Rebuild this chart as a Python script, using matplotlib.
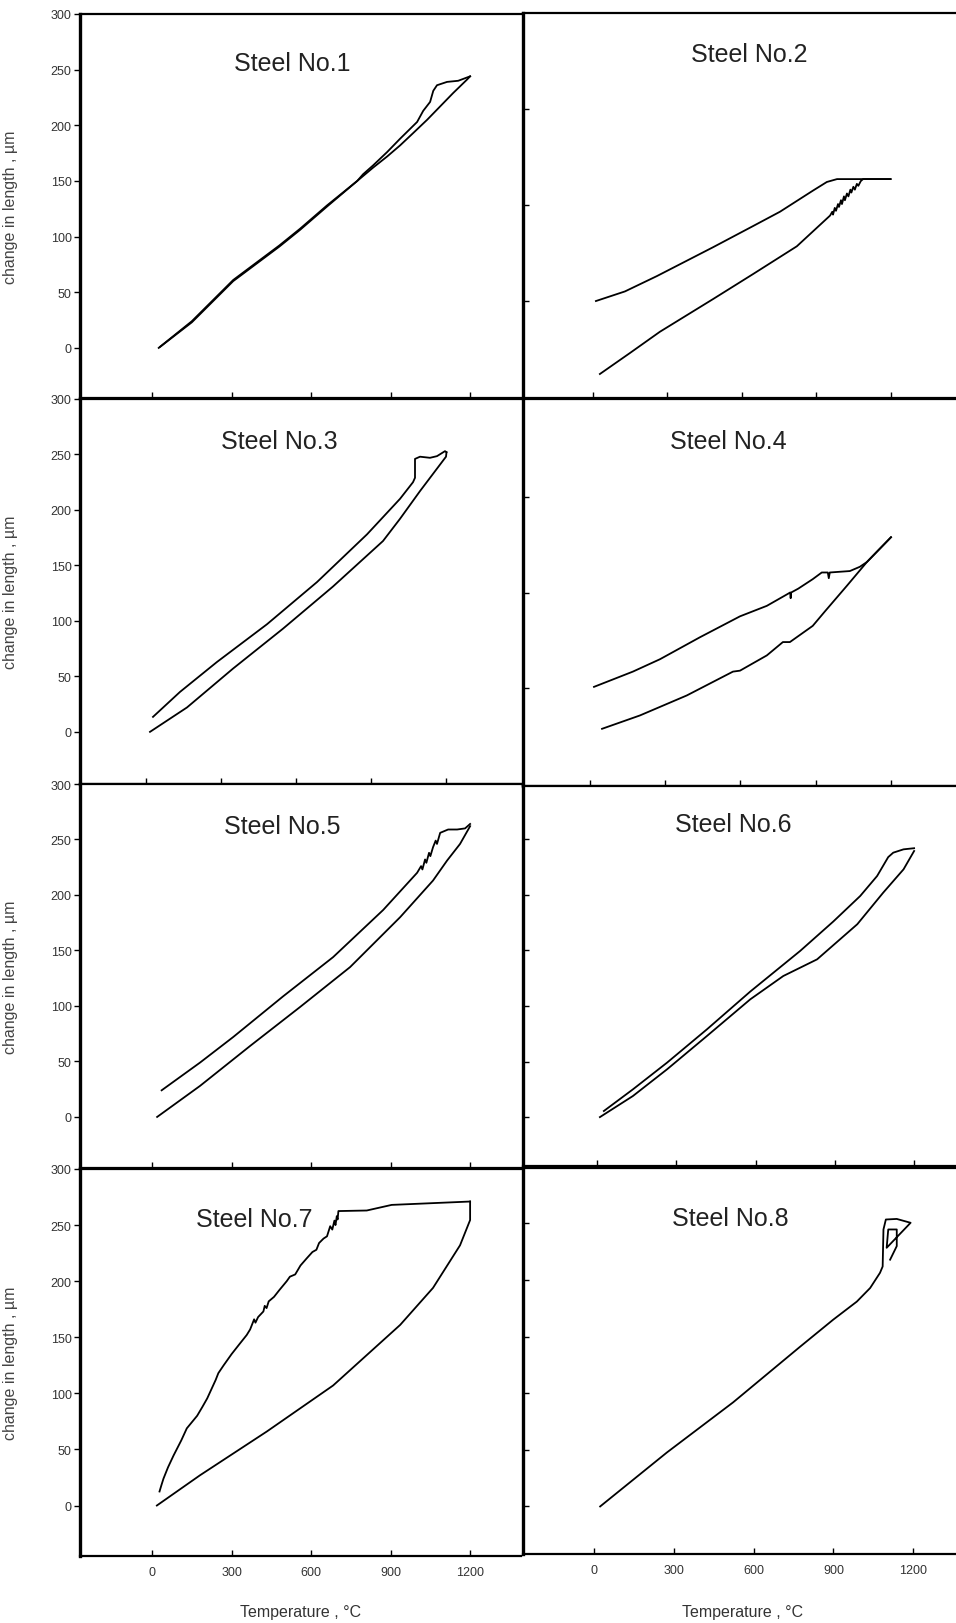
import matplotlib
matplotlib.use("Agg")
import matplotlib.pyplot as plt

plt.rcParams['font.family'] = ['Liberation Sans', 'DejaVu Sans']

W, H = 956, 1624

# ---------------- data (temperature in degC, change in length in um) -------------
s1_heat_T = [25, 150, 306, 480, 558, 660, 774, 834, 887, 936, 985, 1038, 1087, 1136, 1188, 1200]
s1_heat_L = [0, 23, 60, 91, 106, 127, 150, 162, 172, 182, 193, 205, 217, 229, 241, 244]
s1_cool_T = [1200, 1155, 1113, 1075, 1061, 1049, 1023, 1000, 936, 887, 834, 796, 774, 660, 558, 480, 306, 150, 30]
s1_cool_L = [244, 240, 239, 236, 231, 221, 213, 203, 188, 176, 164, 156, 150, 128, 107, 92, 61, 24, 1]

s2_heat_T = [28, 150, 270, 484, 645, 822, 956, 965, 968, 975, 980, 988, 992, 1000, 1004, 1012, 1016, 1024,
             1030, 1038, 1042, 1050, 1056, 1064, 1070, 1080, 1089, 1200]
s2_heat_L = [-76, -54, -32, 2, 28, 57, 89, 93, 90, 97, 94, 101, 98, 105, 101, 109, 105, 112,
             109, 116, 113, 119, 116, 122, 120, 125, 127, 127]
s2_cool_T = [1200, 984, 943, 887, 754, 645, 484, 258, 129, 12]
s2_cool_L = [127, 127, 124, 115, 93, 78, 56, 26, 10, 0]

s3_heat_T = [16, 164, 348, 548, 748, 948, 1016, 1096, 1200, 1202]
s3_heat_L = [0, 22, 57, 93, 131, 172, 192, 217, 248, 252]
s3_cool_T = [1202, 1196, 1164, 1136, 1096, 1076, 1076, 1068, 1016, 884, 684, 484, 284, 136, 28]
s3_cool_L = [252, 253, 248.5, 247, 248, 246, 229, 225, 210, 178, 135, 97, 63, 36, 13.5]

s4_heat_T = [48, 199, 386, 570, 598, 705, 769, 797, 888, 936, 1024, 1104, 1200]
s4_heat_L = [-43, -29, -8, 17, 18, 34, 48, 48, 65, 80, 107, 132, 158]
s4_cool_T = [1200, 1104, 1076, 1036, 956, 952, 948, 924, 888, 830, 802, 800, 798, 785, 705, 598, 438, 279, 171, 16]
s4_cool_L = [158, 132, 127, 122.5, 121, 115, 121, 121, 114, 104, 100, 94, 100, 98, 86, 75, 53, 30, 17, 1]

s5_heat_T = [19, 181, 370, 558, 747, 936, 1060, 1113, 1162, 1200]
s5_heat_L = [0, 28, 64, 99, 135, 180, 213, 231, 246, 262]
s5_cool_T = [1200, 1181, 1151, 1117, 1087, 1075, 1070, 1060, 1050, 1045, 1035, 1030, 1020, 1015, 1000,
             872, 683, 494, 306, 181, 36]
s5_cool_L = [264, 260, 259, 259, 256, 246, 249, 243, 235, 238, 229, 232, 223, 226, 220,
             186.5, 144, 108.6, 72, 49, 24]

s6_heat_T = [11, 136, 265, 416, 580, 705, 833, 985, 1083, 1160, 1200]
s6_heat_L = [0, 19, 43, 73, 106, 127, 142, 173.6, 202, 223, 239.5]
s6_cool_T = [1200, 1160, 1121, 1102, 1060, 996, 894, 769, 580, 416, 265, 136, 26]
s6_cool_L = [242, 241, 238, 234, 217, 199, 176, 149.6, 113, 79, 49, 25, 5.5]

s7_heat_T = [18, 181, 433, 683, 936, 1060, 1162, 1200, 1200]
s7_heat_L = [0, 27, 66, 107, 161, 194, 232, 254.5, 271]
s7_cool_T = [1200, 904, 810, 703, 700, 697, 692, 688, 680, 672, 660, 647, 630, 620, 605, 584, 560, 540,
             520, 508, 480, 460, 440, 432, 425, 420, 400, 390, 385, 370, 357, 330, 300, 270, 250, 240,
             208, 190, 170, 131, 110, 81, 60, 43, 35, 28]
s7_cool_L = [271, 268, 263, 262.5, 255, 258, 250, 254, 246, 249, 240, 238, 234, 228, 226, 220.5, 214, 206,
             204, 200, 192, 186, 182, 176, 178, 173, 168, 163, 166, 157, 152, 144, 135, 125, 118, 112,
             95.5, 88, 80, 68.8, 58, 44.6, 34, 24, 18, 12.5]

s8_T = [23, 274, 523, 774, 899, 988, 1038, 1075, 1085, 1088, 1097, 1138, 1190, 1100, 1106, 1138, 1138, 1113]
s8_L = [0, 47.7, 92, 141, 165, 181, 193, 206.4, 212, 244.7, 253.5, 254, 250.6, 228.5, 244.7, 244.7, 230, 218]

titles = ["Steel No.1", "Steel No.2", "Steel No.3", "Steel No.4",
          "Steel No.5", "Steel No.6", "Steel No.7", "Steel No.8"]
xticks = [0, 300, 600, 900, 1200]
yticks_std = [0, 50, 100, 150, 200, 250, 300]
yticks_wide = [0, 100, 200]
ylabel_text = "change in length , \u00b5m"
xlabel_text = "Temperature , \u00b0C"

series = [
    [(s1_heat_T, s1_heat_L), (s1_cool_T, s1_cool_L)],
    [(s2_heat_T, s2_heat_L), (s2_cool_T, s2_cool_L)],
    [(s3_heat_T, s3_heat_L), (s3_cool_T, s3_cool_L)],
    [(s4_heat_T, s4_heat_L), (s4_cool_T, s4_cool_L)],
    [(s5_heat_T, s5_heat_L), (s5_cool_T, s5_cool_L)],
    [(s6_heat_T, s6_heat_L), (s6_cool_T, s6_cool_L)],
    [(s7_heat_T, s7_heat_L), (s7_cool_T, s7_cool_L)],
    [(s8_T, s8_L)],
]

# ---------------- layout (pixel boxes of each panel) ----------------
boxes = [(80, 15, 521, 399), (523, 14, 963, 399),
         (80, 400, 521, 785), (523, 400, 963, 787),
         (80, 785, 521, 1169), (523, 787, 963, 1167),
         (80, 1170, 521, 1557), (523, 1169, 963, 1555)]
xlims = [(-272, 1392), (-282, 1492), (-264, 1500), (-267, 1487),
         (-272, 1392), (-280, 1385), (-272, 1392), (-267, 1387)]
ylims = [(-45, 300), (-101, 300), (-47, 300), (-103, 303),
         (-46, 300), (-44, 298), (-45, 300), (-42, 299)]
title_px = [(292, 64), (749, 55), (279, 442), (728, 442),
            (282, 827), (733, 825), (254, 1220), (730, 1219)]

fig = plt.figure(figsize=(W / 100, H / 100), dpi=100)

for i in range(8):
    x0, y0, x1, y1 = boxes[i]
    ax = fig.add_axes([x0 / W, 1 - y1 / H, (x1 - x0) / W, (y1 - y0) / H])
    ax.set_xlim(*xlims[i])
    ax.set_ylim(*ylims[i])
    for T, L in series[i]:
        ax.plot(T, L, color='black', lw=1.3, solid_joinstyle='round')
    left_col = (i % 2 == 0)
    bottom_row = (i >= 6)
    for sp in ['top', 'bottom']:
        ax.spines[sp].set_linewidth(1.6)
    ax.spines['left'].set_linewidth(2.4)
    ax.spines['right'].set_visible(False)
    ax.set_xticks(xticks)
    ax.tick_params(axis='x', direction='in', length=4, width=1.0, pad=7,
                   labelsize=9, labelcolor='#333', labelbottom=bottom_row)
    if left_col:
        ax.set_yticks(yticks_std)
        ax.tick_params(axis='y', direction='out', length=4, width=1.0, pad=2,
                       labelsize=9, labelcolor='#333')
        ax.set_ylabel(ylabel_text, fontsize=11.5, color='#444', labelpad=8)
        ax.yaxis.set_label_coords((18 - x0) / (x1 - x0), 0.5)
    else:
        ax.set_yticks(yticks_wide if i in (1, 3) else yticks_std[:-1])
        ax.tick_params(axis='y', direction='in', length=4, width=1.0, labelleft=False)
    if bottom_row:
        ax.set_xlabel(xlabel_text, fontsize=11.5, color='#333')
        ax.xaxis.set_label_coords(0.5 if left_col else (743 - x0) / (x1 - x0),
                                  1 - (1613 - y0) / (y1 - y0))
        ax.xaxis.label.set_verticalalignment('center')
    tx, ty = title_px[i]
    ax.text((tx - x0) / (x1 - x0), 1 - (ty - y0) / (y1 - y0), titles[i],
            transform=ax.transAxes, ha='center', va='center', fontsize=18, color='#222')

fig.savefig("out.png", dpi=100)
